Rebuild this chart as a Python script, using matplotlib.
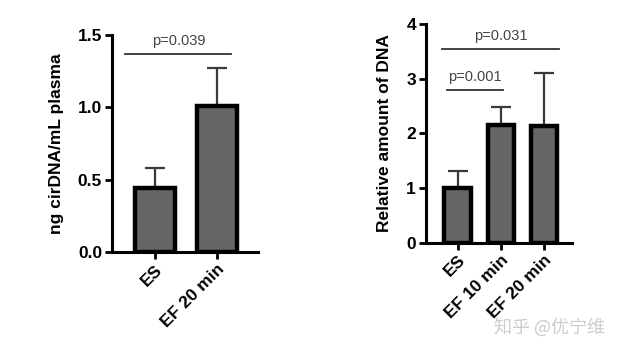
import matplotlib.pyplot as plt

plt.rcParams["font.family"] = ["Liberation Sans", "DejaVu Sans"]

# left panel: circulating DNA
left_groups = ["ES", "EF 20 min"]
left_means = [0.44, 1.01]
left_err = [0.14, 0.26]

# right panel: relative amount of DNA
right_groups = ["ES", "EF 10 min", "EF 20 min"]
right_means = [1.0, 2.15, 2.13]
right_err = [0.32, 0.33, 0.97]

BAR_COLOR = "#666666"


def style_axes(ax):
    for side in ["top", "right"]:
        ax.spines[side].set_visible(False)
    for side in ["left", "bottom"]:
        ax.spines[side].set_linewidth(2.2)
    ax.tick_params(axis="both", width=2, length=5, labelsize=12.5, pad=2)
    for lab in ax.get_yticklabels():
        lab.set_fontweight("bold")


def draw_bars(ax, groups, means, err, width):
    xs = list(range(len(groups)))
    ax.bar(xs, means, width=width, color=BAR_COLOR, edgecolor="black",
           linewidth=3.2, zorder=3)
    ax.errorbar(xs, means, yerr=[[0] * len(err), err], fmt="none",
                ecolor="#3a3a3a", elinewidth=1.6, capsize=7, capthick=1.6,
                zorder=2)
    ax.set_xticks(xs)
    ax.set_xticklabels(groups, rotation=45, ha="right", rotation_mode="anchor",
                       fontweight="bold", fontsize=12.5)


fig = plt.figure(figsize=(6.28, 3.54), dpi=100)

ax1 = fig.add_axes([0.178, 0.288, 0.233, 0.613])
draw_bars(ax1, left_groups, left_means, left_err, 0.65)
ax1.set_ylim(0, 1.5)
ax1.set_yticks([0.0, 0.5, 1.0, 1.5])
ax1.set_yticklabels(["0.0", "0.5", "1.0", "1.5"])
ax1.set_xlim(-0.69, 1.66)
ax1.set_ylabel("ng cirDNA/mL plasma", fontsize=12.5, fontweight="bold", labelpad=10)
style_axes(ax1)
ax1.plot([-0.48, 1.23], [1.37, 1.37], color="#333333", linewidth=1.3)
ax1.text(0.38, 1.41, "p=0.039", ha="center", va="bottom", fontsize=10.5,
         color="#444444")

ax2 = fig.add_axes([0.678, 0.314, 0.233, 0.618])
draw_bars(ax2, right_groups, right_means, right_err, 0.62)
ax2.set_ylim(0, 4)
ax2.set_yticks([0, 1, 2, 3, 4])
ax2.set_xlim(-0.74, 2.65)
ax2.set_ylabel("Relative amount of DNA", fontsize=12.5, fontweight="bold", labelpad=10)
style_axes(ax2)
ax2.plot([-0.26, 1.06], [2.79, 2.79], color="#333333", linewidth=1.3)
ax2.text(0.4, 2.9, "p=0.001", ha="center", va="bottom", fontsize=10.5,
         color="#444444")
ax2.plot([-0.37, 2.35], [3.54, 3.54], color="#333333", linewidth=1.3)
ax2.text(0.99, 3.65, "p=0.031", ha="center", va="bottom", fontsize=10.5,
         color="#444444")

fig.text(0.787, 0.076, "知乎 @优宁维", ha="left", va="center", fontsize=13,
         color="#cccccc", family=["Noto Sans CJK SC", "DejaVu Sans"])

fig.savefig("out.png", dpi=100)
